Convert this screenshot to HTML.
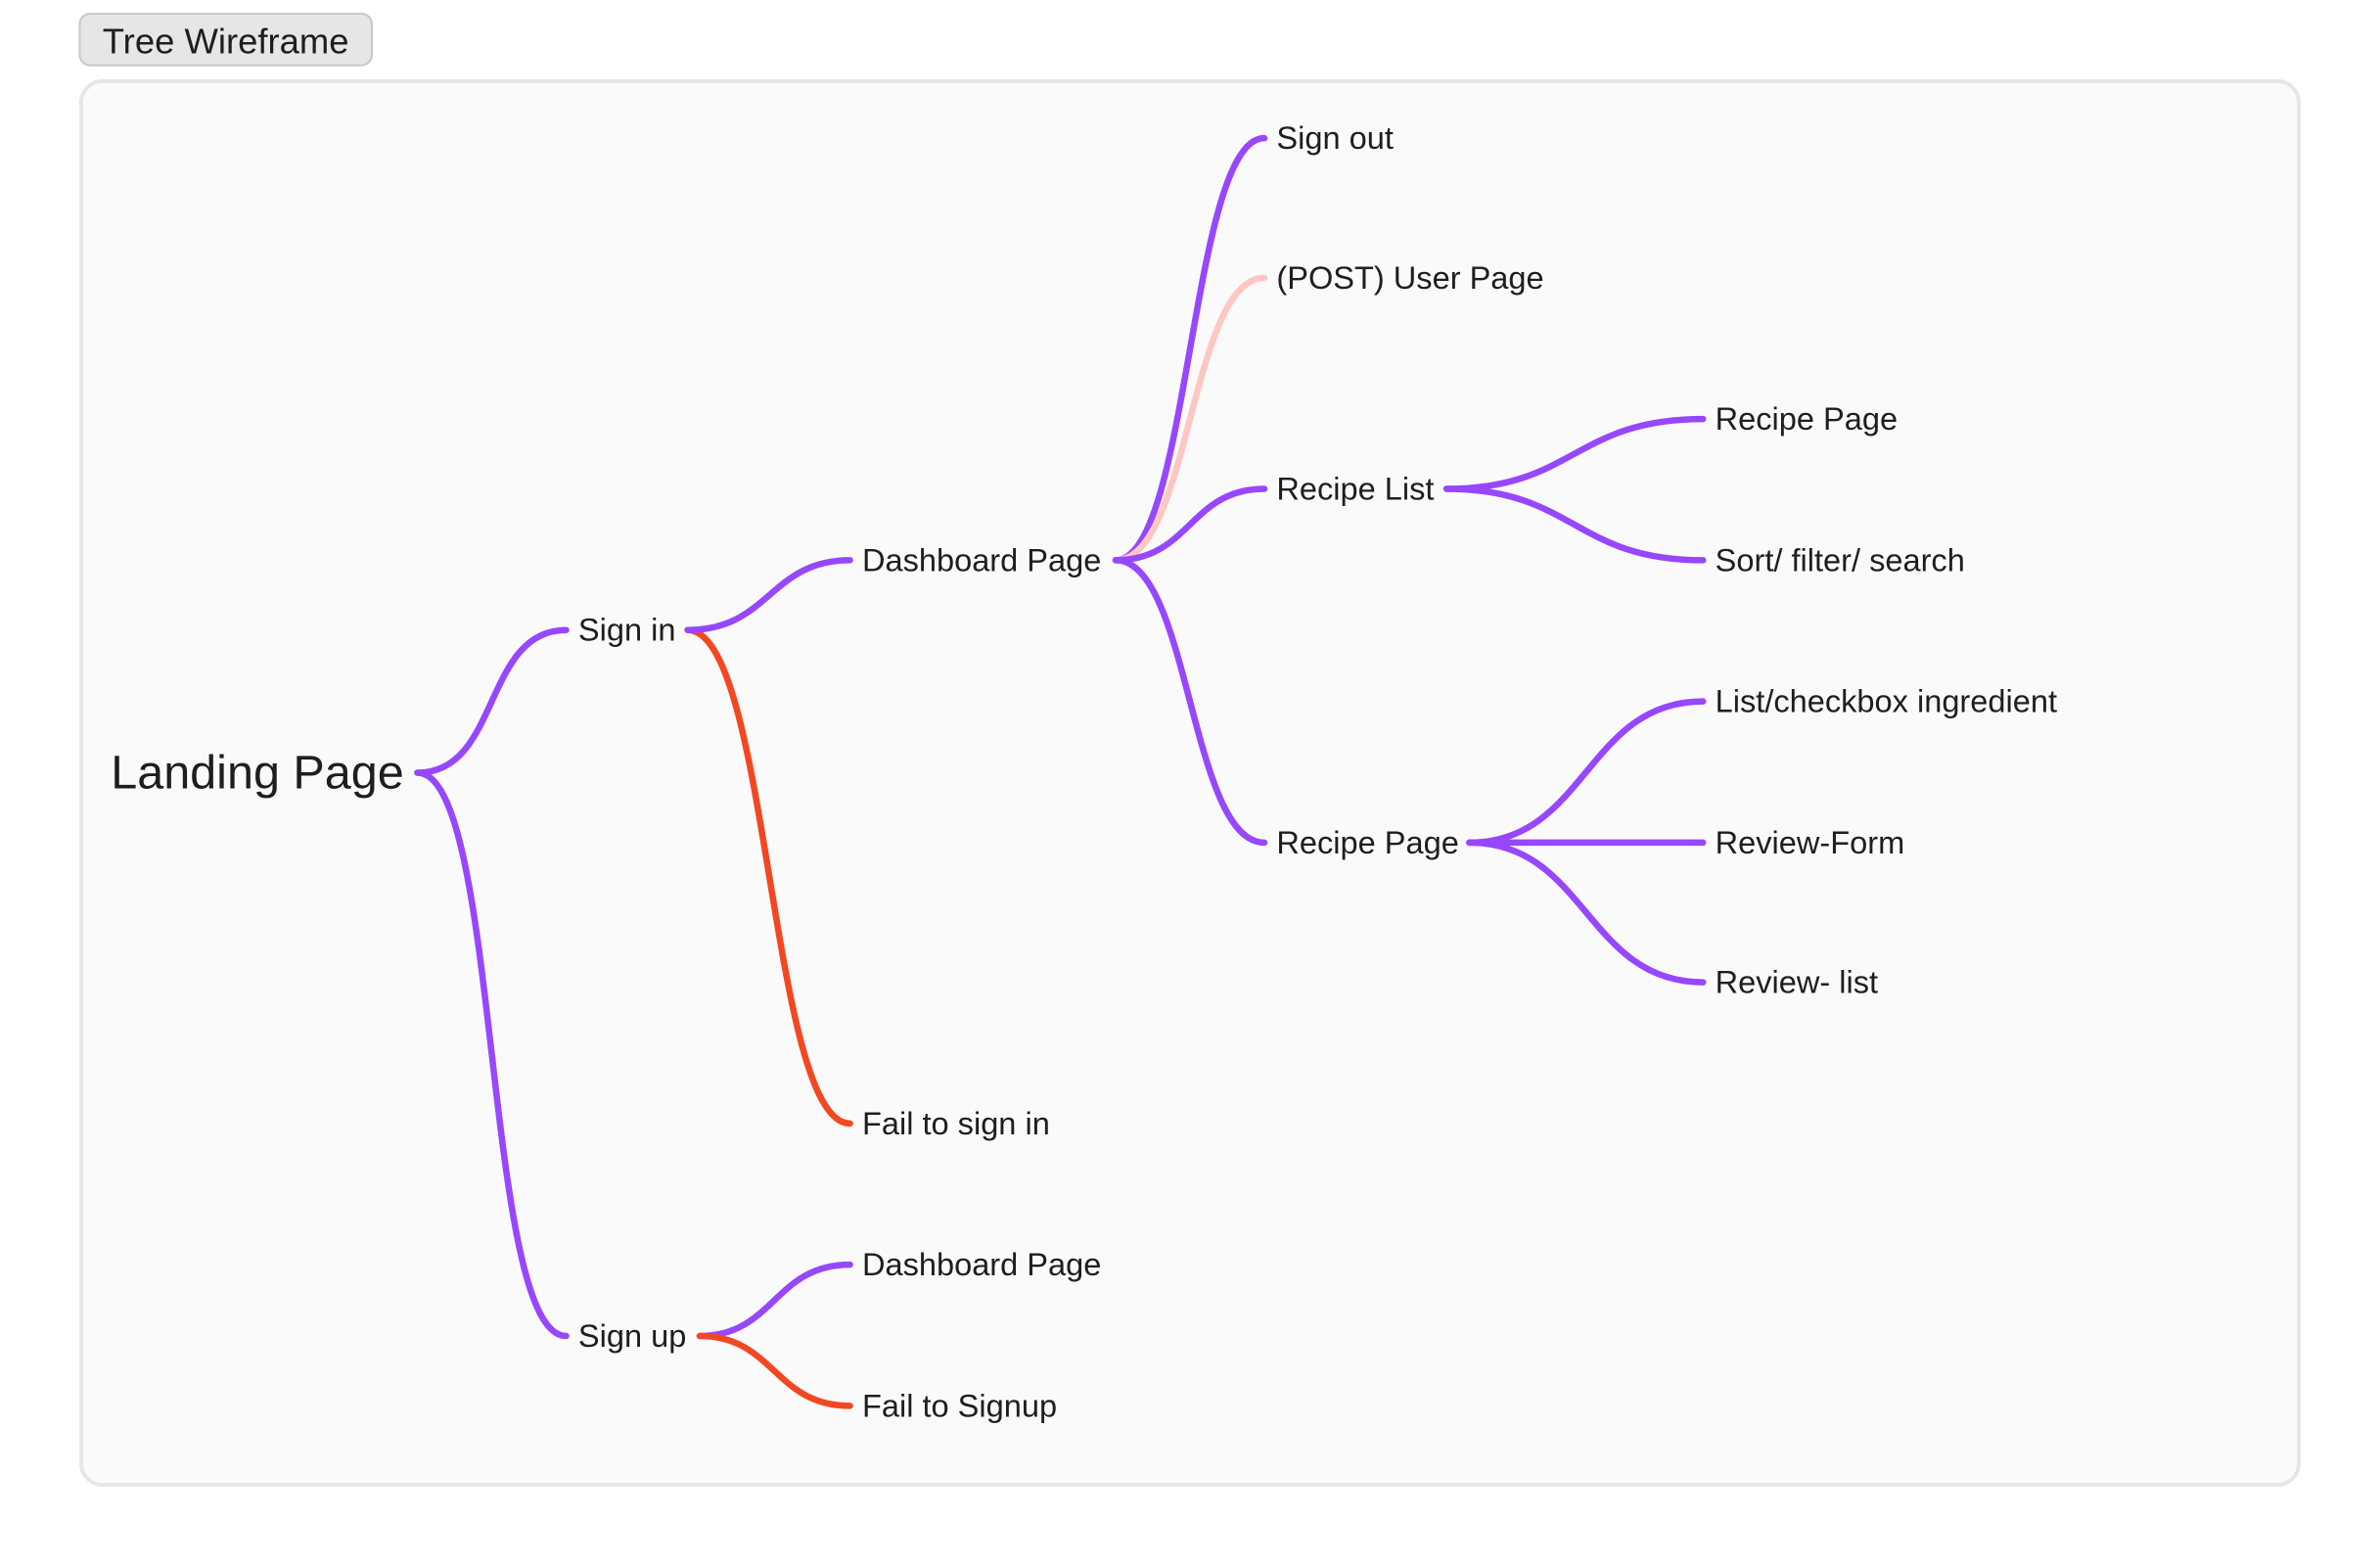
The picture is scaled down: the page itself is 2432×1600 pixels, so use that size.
<!DOCTYPE html>
<html><head><meta charset="utf-8"><style>
html,body{margin:0;padding:0;background:#fff;width:2432px;height:1600px;overflow:hidden}
svg{display:block}
text{font-family:"Liberation Sans",sans-serif;fill:#1e1e1e}
</style></head><body>
<svg width="2432" height="1600" viewBox="0 0 1568 1031.5" preserveAspectRatio="none" xmlns="http://www.w3.org/2000/svg">
<rect x="52.5" y="9" width="192.5" height="34" rx="7" fill="#e6e6e6" stroke="#c8c8c8" stroke-width="1.3"/>
<text x="148.7" y="35" font-size="23.5" text-anchor="middle" fill="#000">Tree Wireframe</text>
<rect x="53.5" y="53.5" width="1461" height="924.5" rx="14" fill="#fafafa" stroke="#e6e6e6" stroke-width="2.5"/>
<g fill="none" stroke-width="4.2" stroke-linecap="round">
<path d="M275 509 C330 509,318 415,373 415" stroke="#9747ff"/>
<path d="M275 509 C330 509,318 880,373 880" stroke="#9747ff"/>
<path d="M453 415 C507 415,507 740,560 740" stroke="#f24822"/>
<path d="M453 415 C507 415,507 369,560 369" stroke="#9747ff"/>
<path d="M461 880 C510 880,510 833,560 833" stroke="#9747ff"/>
<path d="M461 880 C510 880,510 926,560 926" stroke="#f24822"/>
<path d="M735 369 C784 369,784 91,833 91" stroke="#9747ff"/>
<path d="M735 369 C784 369,784 183,833 183" stroke="#ffc7c2"/>
<path d="M735 369 C784 369,784 322,833 322" stroke="#9747ff"/>
<path d="M735 369 C784 369,784 555,833 555" stroke="#9747ff"/>
<path d="M953 322 C1037 322,1037 276,1122 276" stroke="#9747ff"/>
<path d="M953 322 C1037 322,1037 369,1122 369" stroke="#9747ff"/>
<path d="M968 555 C1045 555,1045 462,1122 462" stroke="#9747ff"/>
<path d="M968 555 L1122 555" stroke="#9747ff"/>
<path d="M968 555 C1045 555,1045 647,1122 647" stroke="#9747ff"/>
</g>
<g font-size="21" dominant-baseline="central">
<text x="73" y="509" font-size="31.3">Landing Page</text>
<text x="381" y="415">Sign in</text>
<text x="381" y="880">Sign up</text>
<text x="568" y="369">Dashboard Page</text>
<text x="568" y="740">Fail to sign in</text>
<text x="568" y="833">Dashboard Page</text>
<text x="568" y="926">Fail to Signup</text>
<text x="841" y="91">Sign out</text>
<text x="841" y="183">(POST) User Page</text>
<text x="841" y="322">Recipe List</text>
<text x="841" y="555">Recipe Page</text>
<text x="1130" y="276">Recipe Page</text>
<text x="1130" y="369">Sort/ filter/ search</text>
<text x="1130" y="462">List/checkbox ingredient</text>
<text x="1130" y="555">Review-Form</text>
<text x="1130" y="647">Review- list</text>
</g>
</svg>
</body></html>
